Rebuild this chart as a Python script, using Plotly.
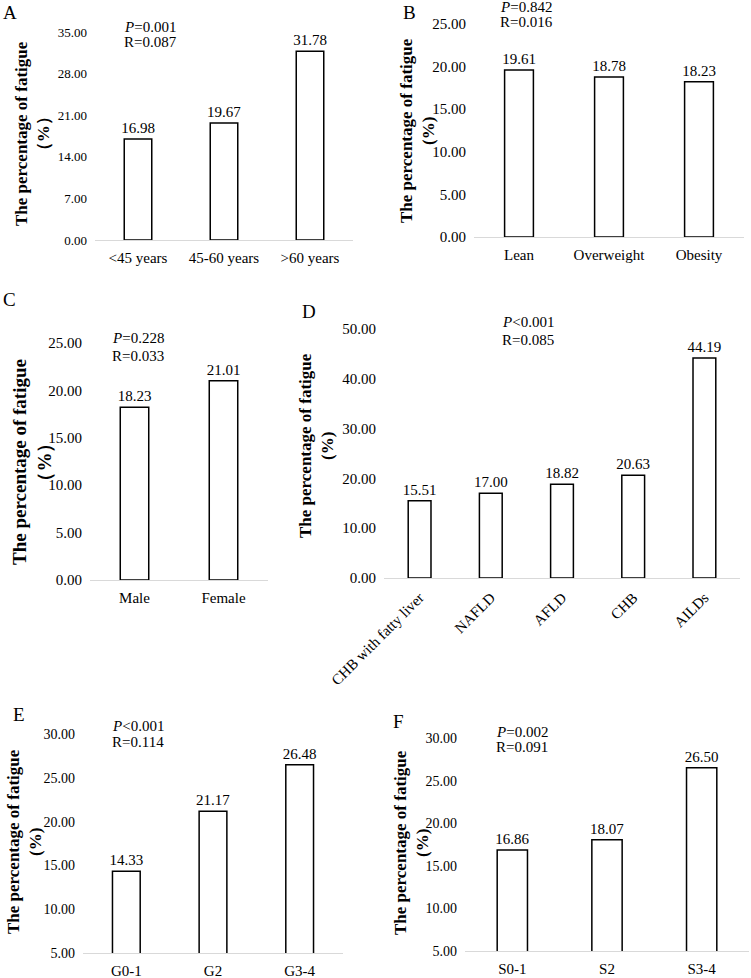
import plotly.graph_objects as go

# data for each panel
age_groups = ['<45 years', '45-60 years', '>60 years']
age_values = [16.98, 19.67, 31.78]
bmi_groups = ['Lean', 'Overweight', 'Obesity']
bmi_values = [19.61, 18.78, 18.23]
sex_groups = ['Male', 'Female']
sex_values = [18.23, 21.01]
disease_groups = ['CHB with fatty liver', 'NAFLD', 'AFLD', 'CHB', 'AILDs']
disease_values = [15.51, 17.00, 18.82, 20.63, 44.19]
grade_groups = ['G0-1', 'G2', 'G3-4']
grade_values = [14.33, 21.17, 26.48]
stage_groups = ['S0-1', 'S2', 'S3-4']
stage_values = [16.86, 18.07, 26.50]

stats_p = ['<i>P</i>=0.001', '<i>P</i>=0.842', '<i>P</i>=0.228',
           '<i>P</i><0.001', '<i>P</i><0.001', '<i>P</i>=0.002']
stats_r = ['R=0.087', 'R=0.016', 'R=0.033', 'R=0.085', 'R=0.114', 'R=0.091']
letters = ['A', 'B', 'C', 'D', 'E', 'F']
y_ranges = [[0, 35], [0, 25], [0, 25], [0, 50], [5, 30], [5, 30]]
y_dticks = [7, 5, 5, 10, 5, 5]

W, H = 751, 978
FONT = 'Times New Roman, Liberation Serif, serif'

# plot boxes in pixels: x0, x1, ytop, ybottom
boxes = [(95, 353, 32, 240), (474, 744, 24, 237), (90, 268, 343, 580),
         (384, 740, 329, 578), (83, 343, 734, 953), (465, 749, 738, 951)]
tick_sizes = [13, 15, 15, 15, 14, 14]
title_pos = [(33, 134, 17), (418, 131, 17), (32, 462, 19),
             (316, 446, 17), (24, 842, 17), (411, 843, 17)]
title_pct = ['（%）', '(%)', '（%）', '(%)', '(%)', '(%)']
letter_pos = [(10, 12), (409, 13), (9, 299), (309, 312), (19, 714), (399, 721)]
stat_pos = [(150, 27, 42), (526, 7, 22), (138, 338, 356),
            (528, 322, 340), (138, 726, 742), (522, 732, 747)]

groups = [age_groups, bmi_groups, sex_groups, disease_groups, grade_groups, stage_groups]
values = [age_values, bmi_values, sex_values, disease_values, grade_values, stage_values]


def note(text, px, py, size, angle=0):
    return dict(text=text, x=px / W, y=1 - py / H, xref='paper', yref='paper',
                xanchor='center', yanchor='middle', textangle=angle, showarrow=False,
                font=dict(family=FONT, size=size, color='black'))


fig = go.Figure()
annotations = []
for i in range(6):
    n = '' if i == 0 else str(i + 1)
    fig.add_trace(go.Bar(
        x=groups[i], y=values[i], xaxis='x' + n, yaxis='y' + n,
        width=0.32, marker=dict(color='white', line=dict(color='black', width=1.5)),
        text=['%.2f' % v for v in values[i]], textposition='outside',
        constraintext='none',
        textfont=dict(family=FONT, size=15, color='black'),
        cliponaxis=False, showlegend=False))
    x0, x1, yt, yb = boxes[i]
    fig.layout['xaxis' + n] = dict(
        domain=[x0 / W, x1 / W], anchor='y' + n, showline=True, linecolor='#d9d9d9',
        linewidth=1, ticks='', showgrid=False, tickangle=-45 if i == 3 else 0,
        automargin=False, ticklabelstandoff=4,
        tickfont=dict(family=FONT, size=15, color='black'))
    fig.layout['yaxis' + n] = dict(
        domain=[1 - yb / H, 1 - yt / H], anchor='x' + n, range=y_ranges[i],
        dtick=y_dticks[i], tick0=0, tickformat='.2f', showgrid=False, zeroline=False,
        showline=False, ticks='', automargin=False, ticklabelstandoff=7,
        tickfont=dict(family=FONT, size=tick_sizes[i], color='black'))
    tx, ty, ts = title_pos[i]
    annotations.append(note('<b>The percentage of fatigue<br>' + title_pct[i] + '</b>',
                            tx, ty, ts, -90))
    lx, ly = letter_pos[i]
    annotations.append(note(letters[i], lx, ly, 19))
    sx, py, ry = stat_pos[i]
    annotations.append(note(stats_p[i], sx, py, 15))
    annotations.append(note(stats_r[i], sx, ry, 15))

fig.update_layout(width=W, height=H, margin=dict(l=0, r=0, t=0, b=0),
                  plot_bgcolor='white', paper_bgcolor='white',
                  annotations=annotations, font=dict(family=FONT, color='black'))
# drop the default page margin so the figure sits at the window's corner
fig.write_html('out.html', config={'displayModeBar': False},
               post_script="document.body.style.margin='0';")
